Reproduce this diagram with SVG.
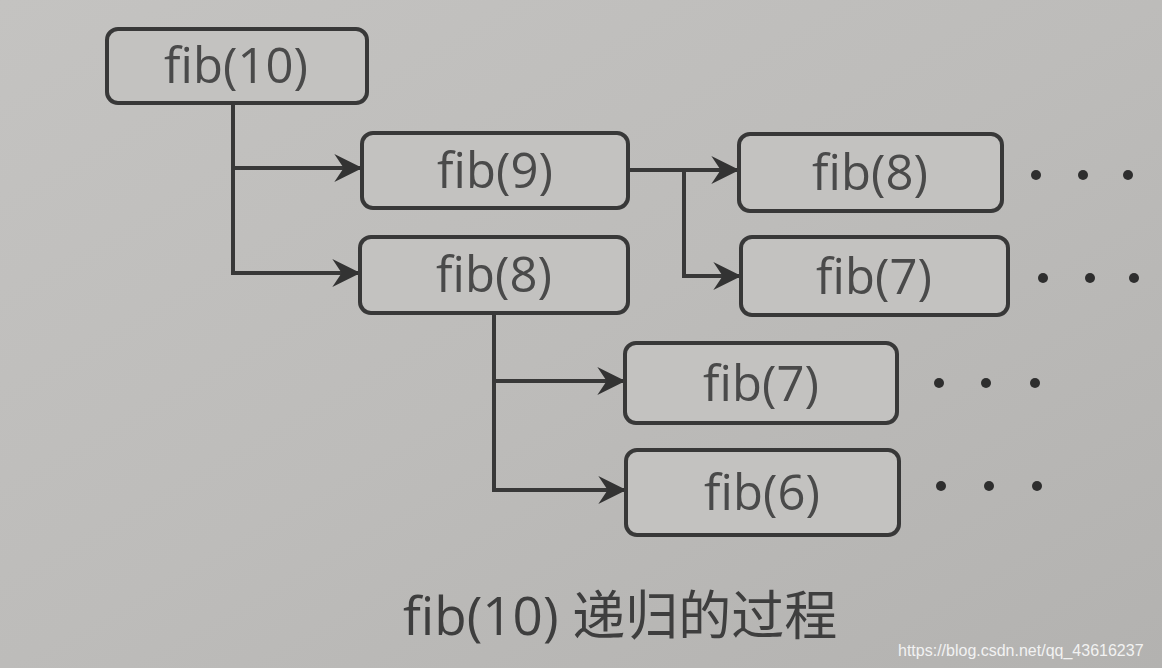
<svg xmlns="http://www.w3.org/2000/svg" width="1162" height="668" viewBox="0 0 1162 668">
<defs>
<linearGradient id="bg" x1="0" y1="0" x2="1" y2="1">
<stop offset="0" stop-color="#c4c3c1"/>
<stop offset="0.5" stop-color="#bdbcba"/>
<stop offset="1" stop-color="#b3b2b0"/>
</linearGradient>
<marker id="arr" viewBox="0 0 12 12" refX="11" refY="6" markerWidth="7" markerHeight="7" markerUnits="strokeWidth" orient="auto">
<path d="M0,0 L12,6 L0,12 L4,6 z" fill="#333"/>
</marker>
<style>
.box{fill:#c3c2c0;stroke:#383838;stroke-width:4}
.lbl{font-family:"Open Sans","Liberation Sans",sans-serif;font-size:49px;fill:#4a4a4a;text-anchor:middle}
.edge{fill:none;stroke:#383838;stroke-width:4;marker-end:url(#arr)}
.dot{fill:#2e2e2e}
</style>
</defs>
<rect width="1162" height="668" fill="url(#bg)"/>
<g id="connectors">
<path class="edge" d="M233,103 V168 H360"/>
<path class="edge" d="M233,168 V273 H358"/>
<path class="edge" d="M628,170 H737"/>
<path class="edge" d="M684,170 V276 H739"/>
<path class="edge" d="M494,313 V381 H623"/>
<path class="edge" d="M494,381 V490 H624"/>
</g>
<g id="n-fib10"><rect class="box" x="107" y="29" width="260" height="74" rx="11"/><text class="lbl" x="236" y="83">fib(10)</text></g>
<g id="n-fib9"><rect class="box" x="362" y="133" width="266" height="75" rx="11"/><text class="lbl" x="495" y="188">fib(9)</text></g>
<g id="n-fib8a"><rect class="box" x="360" y="237" width="268" height="76" rx="11"/><text class="lbl" x="494" y="292">fib(8)</text></g>
<g id="n-fib8b"><rect class="box" x="739" y="134" width="263" height="77" rx="11"/><text class="lbl" x="870" y="190">fib(8)</text></g>
<g id="n-fib7a"><rect class="box" x="741" y="237" width="267" height="78" rx="11"/><text class="lbl" x="874" y="294">fib(7)</text></g>
<g id="n-fib7b"><rect class="box" x="625" y="343" width="272" height="80" rx="11"/><text class="lbl" x="761" y="401">fib(7)</text></g>
<g id="n-fib6"><rect class="box" x="626" y="450" width="273" height="85" rx="11"/><text class="lbl" x="762" y="510">fib(6)</text></g>
<g id="dots">
<circle class="dot" cx="1036" cy="175" r="5"/><circle class="dot" cx="1083" cy="175" r="5"/><circle class="dot" cx="1128" cy="175" r="5"/>
<circle class="dot" cx="1043" cy="278" r="5"/><circle class="dot" cx="1090" cy="278" r="5"/><circle class="dot" cx="1134" cy="278" r="5"/>
<circle class="dot" cx="939" cy="383" r="5"/><circle class="dot" cx="986" cy="383" r="5"/><circle class="dot" cx="1035" cy="383" r="5"/>
<circle class="dot" cx="941" cy="486" r="5"/><circle class="dot" cx="989" cy="486" r="5"/><circle class="dot" cx="1037" cy="486" r="5"/>
</g>
<text x="403" y="635" font-family="'Open Sans','Noto Sans CJK SC',sans-serif" font-size="53" fill="#3e3e3e">fib(10) 递归的过程</text>
<text x="898" y="656" font-family="'Liberation Sans',sans-serif" font-size="16" fill="#f2f2f2">https://blog.csdn.net/qq_43616237</text>
</svg>
